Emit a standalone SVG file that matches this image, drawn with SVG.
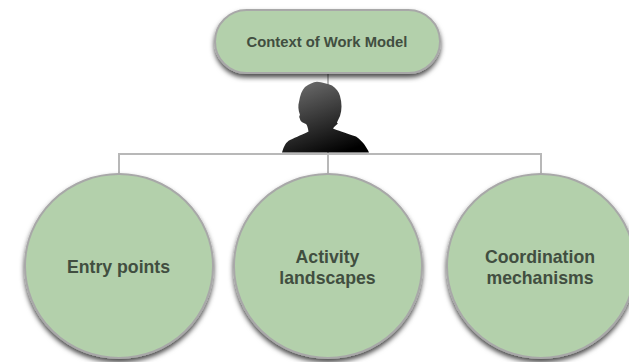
<svg xmlns="http://www.w3.org/2000/svg" width="629" height="362" viewBox="0 0 629 362">
<style>
.n{fill:#b3d0ab;stroke:#a8a8a8;stroke-width:2;filter:url(#s)}
.c{fill:none;stroke:#b8b8b8;stroke-width:2}
text{font-family:"Liberation Sans",Arial,sans-serif;font-weight:bold;fill:#414e40;text-anchor:middle}
.b{font-size:17.7px}
</style>
<defs>
<filter id="s" x="-15%" y="-15%" width="130%" height="130%"><feDropShadow dx="0" dy="3.500" stdDeviation="2.500" flood-color="#000" flood-opacity="0.7"/></filter>
<linearGradient id="g" x1="0.25" y1="0" x2="0.7" y2="1"><stop offset="0" stop-color="#6a6a6a"/><stop offset="1" stop-color="#000"/></linearGradient>
</defs>
<g id="connectors">
<path class="c" d="M328 72V175M119 175V154H541V175"/>
</g>
<g id="context"><rect class="n" x="215" y="10" width="225" height="63" rx="31.5"/><text x="327" y="47" font-size="14.8px">Context of Work Model</text></g>
<g id="person"><path fill="url(#g)" d="M282 152.500C284 146 286 142 290 140C296 137 304 134 308.500 131.500C308 128 307 125 306 124C303 123 300 121 300 119C299 117 299 116 300 115C298 110 298 105 299 102C300 95 302 90 305 87C309 84 313 82 317 81.700C322 82 328 84 332 85.500C336 88 339 92 340 96C342 103 342 110 340 116C338 120 337 122 337 123L338 123.500C336 125 334 127 333 128.500C337 130 345 133 356 136.500C360 139 362 142 364 144C366 147 368 150 369 152.500Z"/></g>
<g id="entry"><ellipse class="n" cx="119" cy="266" rx="94" ry="92"/><text class="b" x="118.500" y="273">Entry points</text></g>
<g id="activity"><ellipse class="n" cx="328" cy="266" rx="94" ry="92"/><text class="b" x="327.500" y="262.500">Activity</text><text class="b" x="327.500" y="284">landscapes</text></g>
<g id="coordination"><ellipse class="n" cx="541" cy="266" rx="94" ry="92"/><text class="b" x="540" y="262.500">Coordination</text><text class="b" x="540" y="284">mechanisms</text></g>
</svg>
